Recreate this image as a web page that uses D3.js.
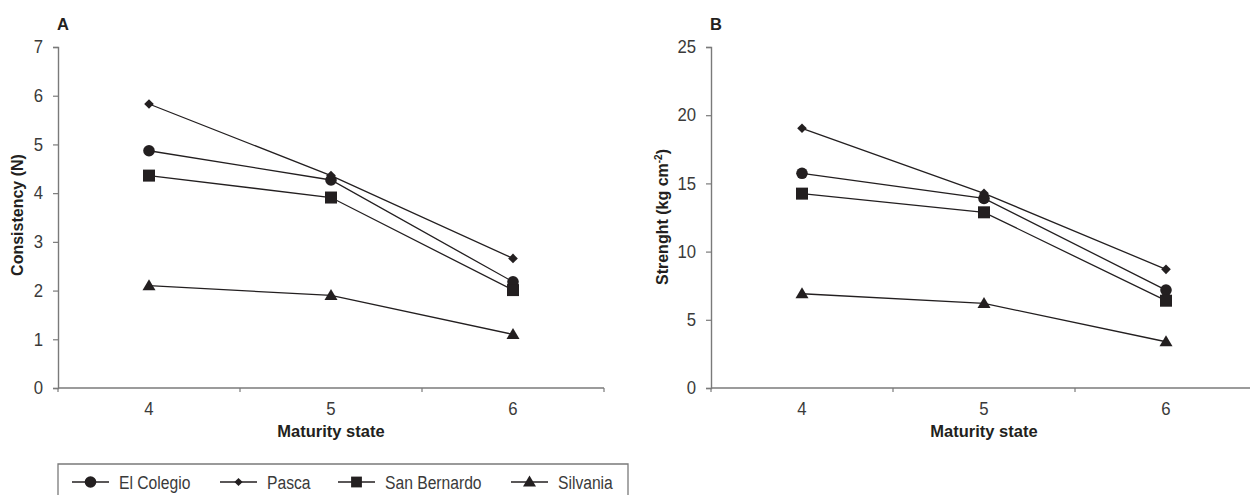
<!DOCTYPE html>
<html>
<head>
<meta charset="utf-8">
<script src="https://cdn.jsdelivr.net/npm/d3@7"></script>
<style>
	body { margin: 0; background: #fff; }
	svg text { font-family: "Liberation Sans", Arial, sans-serif; }
</style>
</head>
<body>
<div class="container"></div>
<script>
// maturity states on the x axis
var states = [4, 5, 6];

var series = ["El Colegio", "Pasca", "San Bernardo", "Silvania"];
var symbols = ["circle", "diamond", "square", "triangle"];

// panel A - consistency (N)
var consistency = {
	"El Colegio":   [4.87, 4.27, 2.18],
	"Pasca":        [5.83, 4.36, 2.66],
	"San Bernardo": [4.36, 3.91, 2.01],
	"Silvania":     [2.10, 1.90, 1.10]
};
var consistencyTicks = [0, 1, 2, 3, 4, 5, 6, 7];

// panel B - strenght (kg cm-2)
var strength = {
	"El Colegio":   [15.74, 13.90, 7.18],
	"Pasca":        [19.04, 14.27, 8.70],
	"San Bernardo": [14.25, 12.88, 6.40],
	"Silvania":     [6.91, 6.20, 3.39]
};
var strengthTicks = [0, 5, 10, 15, 20, 25];

var W = 1250, H = 495;
var ink = "#231f20", axisCol = "#7a7a7a", txt = "#3a3a3a";

var svg = d3.select(".container").append("svg")
	.attr("width", W)
	.attr("height", H);

// no condensed font installed, so squeeze the text horizontally
function squeeze (sel, sx) {
	sel.each(function () {
		var t = d3.select(this);
		var x = +t.attr("x") || 0, y = +t.attr("y") || 0;
		t.attr("x", 0).attr("y", 0)
			.attr("transform", "translate(" + x + "," + y + ") scale(" + sx + ",1)");
	});
}

// draws one symbol centred at 0,0
function marker (g, type) {
	if (type === "circle") {
		g.append("circle").attr("r", 5.8).attr("fill", ink);
	} else if (type === "diamond") {
		g.append("path").attr("d", "M0,-4.8L4.8,0L0,4.8L-4.8,0Z").attr("fill", ink);
	} else if (type === "square") {
		g.append("rect").attr("x", -6).attr("y", -6).attr("width", 12).attr("height", 12).attr("fill", ink);
	} else {
		g.append("path").attr("d", "M0,-6.5L6.5,4.5L-6.5,4.5Z").attr("fill", ink);
	}
}

function panel (opts) {
	var x = d3.scaleBand().domain(states).range([opts.left, opts.left + 546]);
	var y = d3.scaleLinear().domain(opts.domain).range([388, 47]);

	var g = svg.append("g");

	// y axis
	var ya = g.append("g")
		.attr("transform", "translate(" + opts.left + ",0)")
		.call(d3.axisLeft(y).tickValues(opts.ticks).tickFormat(d3.format("d")).tickSize(5).tickPadding(10));
	ya.select(".domain").attr("stroke", axisCol).attr("stroke-width", 1.4);
	ya.selectAll(".tick line").attr("stroke", axisCol).attr("stroke-width", 1.2);
	ya.selectAll(".tick text")
		.attr("font-family", null)
		.attr("font-size", 18)
		.attr("fill", txt)
		.call(squeeze, 0.93);

	// x axis: ticks at the band edges, labels in the middle
	var edges = states.map(function (d) { return x(d); }).concat([x.range()[1]]);
	g.append("line")
		.attr("x1", opts.left).attr("x2", x.range()[1])
		.attr("y1", y(0)).attr("y2", y(0))
		.attr("stroke", axisCol).attr("stroke-width", 1.4);
	g.selectAll(".xedge").data(edges).enter()
		.append("line")
		.attr("x1", function (d) { return d; })
		.attr("x2", function (d) { return d; })
		.attr("y1", y(0)).attr("y2", y(0) + 4)
		.attr("stroke", axisCol).attr("stroke-width", 1.2);
	g.selectAll(".xlab").data(states).enter()
		.append("text")
		.attr("x", function (d) { return x(d) + x.bandwidth() / 2; })
		.attr("y", y(0) + 27)
		.attr("text-anchor", "middle")
		.attr("font-size", 18)
		.attr("fill", txt)
		.text(function (d) { return d; })
		.call(squeeze, 0.93);

	g.append("text")
		.attr("x", x(5) + x.bandwidth() / 2)
		.attr("y", 437)
		.attr("text-anchor", "middle")
		.attr("font-size", 16.5)
		.attr("font-weight", "bold")
		.attr("fill", ink)
		.text("Maturity state");

	// panel letter
	g.append("text")
		.attr("x", opts.left + 5)
		.attr("y", 30)
		.attr("text-anchor", "middle")
		.attr("font-size", 16.5)
		.attr("font-weight", "bold")
		.attr("fill", ink)
		.text(opts.letter);

	// y title
	var yt = g.append("text")
		.attr("transform", "translate(" + opts.titleX + "," + opts.titleY + ") rotate(-90)")
		.attr("text-anchor", "middle")
		.attr("font-size", 16)
		.attr("font-weight", "bold")
		.attr("fill", ink);
	opts.title(yt);

	// the lines
	var line = d3.line()
		.x(function (d, i) { return x(states[i]) + x.bandwidth() / 2; })
		.y(function (d) { return y(d); });

	series.forEach(function (name, k) {
		var vals = opts.data[name];
		g.append("path")
			.attr("d", line(vals))
			.attr("fill", "none")
			.attr("stroke", ink)
			.attr("stroke-width", 1.3);
		vals.forEach(function (v, i) {
			var m = g.append("g")
				.attr("transform", "translate(" + (x(states[i]) + x.bandwidth() / 2) + "," + y(v) + ")");
			marker(m, symbols[k]);
		});
	});
}

panel({
	left: 58, domain: [0, 7], ticks: consistencyTicks, data: consistency,
	letter: "A", titleX: 23, titleY: 215,
	title: function (t) { t.text("Consistency (N)"); }
});

panel({
	left: 711, domain: [0, 25], ticks: strengthTicks, data: strength,
	letter: "B", titleX: 668, titleY: 217,
	title: function (t) {
		t.append("tspan").text("Strenght (kg cm");
		t.append("tspan").attr("dy", -6).attr("font-size", 10).text("-2");
		t.append("tspan").attr("dy", 6).text(")");
	}
});

// legend box, open at the bottom where the page cuts it
var legX = [72, 220, 338, 511];
var leg = svg.append("g");
leg.append("path")
	.attr("d", "M58,500V464H628V500")
	.attr("fill", "none")
	.attr("stroke", axisCol)
	.attr("stroke-width", 1.3);

series.forEach(function (name, k) {
	var lx = legX[k], ly = 482;
	leg.append("line")
		.attr("x1", lx).attr("x2", lx + 37)
		.attr("y1", ly).attr("y2", ly)
		.attr("stroke", ink).attr("stroke-width", 1.3);
	var m = leg.append("g").attr("transform", "translate(" + (lx + 18.5) + "," + ly + ")");
	marker(m, symbols[k]);
	if (symbols[k] === "diamond") m.attr("transform", "translate(" + (lx + 18.5) + "," + ly + ") scale(0.85)");
	if (symbols[k] === "square") m.attr("transform", "translate(" + (lx + 18.5) + "," + ly + ") scale(0.9)");
	leg.append("text")
		.attr("x", lx + 47)
		.attr("y", ly + 6.5)
		.attr("font-size", 18)
		.attr("fill", txt)
		.text(name)
		.call(squeeze, 0.87);
});
</script>
</body>
</html>
